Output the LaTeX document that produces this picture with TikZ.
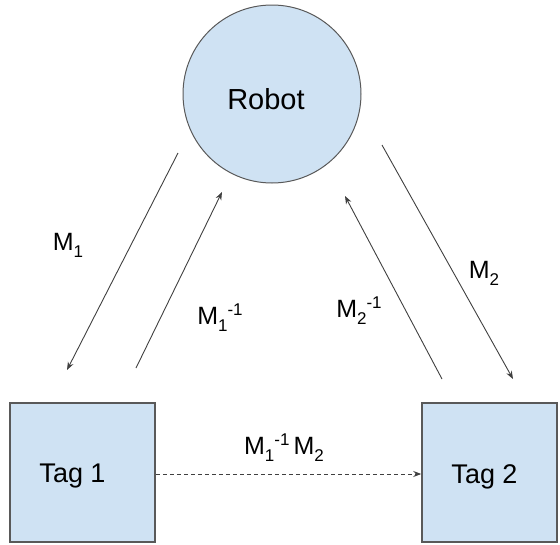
\documentclass[tikz,border=0pt]{standalone}
\usepackage{fontspec}
\setmainfont{Liberation Sans}
\usetikzlibrary{arrows.meta}
\definecolor{fillblue}{HTML}{CFE2F3}
\definecolor{edgegray}{HTML}{595959}
\definecolor{arrgray}{HTML}{404040}
\newcommand{\lbl}[3]{M\raisebox{-7pt}{\fontsize{17}{18}\selectfont #1}\ifx&#2&\else\raisebox{9pt}{\fontsize{17}{18}\selectfont #2}\fi #3}
\newcommand{\lowered}[2]{\raisebox{-#1}[\height][\depth]{#2}}
\begin{document}
\begin{tikzpicture}[x=1pt,y=-1pt,
  shapecirc/.style={circle,draw=edgegray,fill=fillblue,line width=1pt,minimum size=178pt,inner sep=0pt,font=\fontsize{29}{32}\selectfont},
  shapebox/.style={rectangle,draw=edgegray,fill=fillblue,line width=1.5pt,minimum height=139pt,inner sep=0pt,font=\fontsize{27}{30}\selectfont},
  conn/.style={draw=arrgray,line width=0.9pt,-{Stealth[length=8pt,width=6pt]}},
  lab/.style={font=\fontsize{25}{28}\selectfont,inner sep=0pt}]
\useasboundingbox (0,0) rectangle (560,544);
\node[shapecirc] (robot) at (272,94) {\lowered{5pt}{Robot}\hspace*{12pt}};
\node[shapebox,minimum width=145pt] (tag1) at (82.5,472.5) {\lowered{4pt}{Tag 1}\hspace*{20pt}};
\node[shapebox,minimum width=135pt] (tag2) at (489.5,472.5) {\lowered{4pt}{Tag 2}\hspace*{10pt}};
\coordinate (a1s) at (178,153);
\coordinate (a1e) at (67,370);
\coordinate (b1s) at (136,368);
\coordinate (b1e) at (222,192);
\coordinate (a2s) at (382,145);
\coordinate (a2e) at (513,379);
\coordinate (b2s) at (442,379);
\coordinate (b2e) at (345,196);
\draw[conn] (a1s) -- (a1e);
\draw[conn] (b1s) -- (b1e);
\draw[conn] (a2s) -- (a2e);
\draw[conn] (b2s) -- (b2e);
\draw[conn,dash pattern=on 4pt off 3pt] ([yshift=-1.5pt]tag1.east) -- ([yshift=-1.5pt]tag2.west);
\node[lab] (l1) at (68,245) {\lbl{1}{}{}};
\node[lab] (l2) at (220,318) {\lbl{1}{-1}{}};
\node[lab] (l3) at (484,273) {\lbl{2}{}{}};
\node[lab] (l4) at (359,311) {\lbl{2}{-1}{}};
\node[lab] (l5) at (284,448) {\lbl{1}{-1}{\,}\lbl{2}{}{}};
\end{tikzpicture}
\end{document}
